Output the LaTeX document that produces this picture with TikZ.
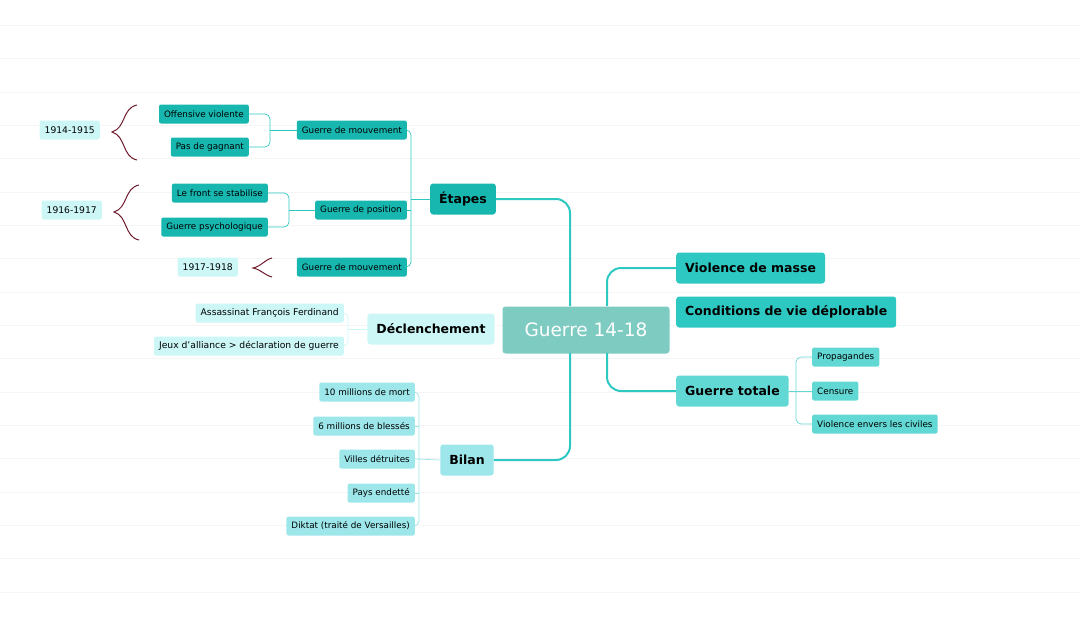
\documentclass[tikz,border=0pt]{standalone}
\usepackage{fontspec}
\setmainfont{DejaVu Sans}
\usetikzlibrary{positioning}
\definecolor{tealdark}{HTML}{17B7AF}
\definecolor{tealmid}{HTML}{2EC8C2}
\definecolor{teallight}{HTML}{62D8D4}
\definecolor{cyanpale}{HTML}{CDF7F7}
\definecolor{cyanbilan}{HTML}{9DE7EB}
\definecolor{centre}{HTML}{7ECBC1}
\definecolor{bracered}{HTML}{6E1B2B}
\definecolor{rule}{HTML}{F5F5F5}
\tikzset{
  box/.style={rounded corners=2pt, inner xsep=5pt, anchor=east, font=\fontsize{8.8}{10}\selectfont, minimum height=19pt},
  leaf/.style={box, fill=tealdark},
  pale/.style={box, fill=cyanpale, font=\fontsize{9.2}{10}\selectfont},
  bilanleaf/.style={box, fill=cyanbilan},
  totleaf/.style={box, anchor=west, fill=teallight},
  topic/.style={rounded corners=3pt, inner xsep=9pt, minimum height=31pt, font=\bfseries\fontsize{12.5}{14}\selectfont},
  link/.style={draw=tealmid, line width=0.7pt, rounded corners=5pt},
  thick link/.style={draw=tealmid, line width=2pt, rounded corners=14pt},
  brace/.style={draw=bracered, line width=1pt},
}
\begin{document}
\begin{tikzpicture}[x=1pt,y=-1pt]
    \useasboundingbox (0,0) rectangle (1080,632);
    % faint ruled paper
    \foreach \yy in {25,58,92,125,158,192,225,258,292,325,358,392,425,458,492,525,558,592}
        \draw[rule, line width=0.6pt] (0,\yy) -- (1080,\yy);

    % centre and main topics
    \node[topic, fill=centre, text=white, font=\fontsize{18.5}{20}\selectfont, minimum width=167pt, minimum height=47pt] (guerre) at (586,330) {Guerre 14-18};
    \node[topic, fill=tealdark] (etapes) at (463,199) {Étapes};
    \node[topic, fill=cyanpale] (declen) at (431,329) {Déclenchement};
    \node[topic, fill=cyanbilan] (bilan) at (467,460) {Bilan};
    \node[topic, fill=tealmid, anchor=west] (violence) at (676,268) {Violence de masse};
    \node[topic, fill=tealmid, anchor=west] (conditions) at (676,312) {Conditions de vie déplorable};
    \node[topic, fill=teallight, anchor=west] (totale) at (676,391) {Guerre totale};

    % Etapes branch
    \node[leaf] (mvt1) at (407,130) {Guerre de mouvement};
    \node[leaf] (position) at (407,210) {Guerre de position};
    \node[leaf] (mvt2) at (407,267) {Guerre de mouvement};
    \node[leaf] (offensive) at (249,114) {Offensive violente};
    \node[leaf] (gagnant) at (249,147) {Pas de gagnant};
    \node[leaf] (front) at (268,193) {Le front se stabilise};
    \node[leaf] (psycho) at (268,227) {Guerre psychologique};
    \node[pale] (an1) at (100,130) {1914-1915};
    \node[pale] (an2) at (102,210) {1916-1917};
    \node[pale] (an3) at (238,267) {1917-1918};

    % Declenchement branch
    \node[pale] (assassinat) at (344,313) {Assassinat François Ferdinand};
    \node[pale] (alliances) at (344,346) {Jeux d'alliance > déclaration de guerre};

    % Bilan branch
    \node[bilanleaf] (morts) at (415,392) {10 millions de mort};
    \node[bilanleaf] (blesses) at (415,426) {6 millions de blessés};
    \node[bilanleaf] (villes) at (415,459) {Villes détruites};
    \node[bilanleaf] (dette) at (415,493) {Pays endetté};
    \node[bilanleaf] (diktat) at (415,526) {Diktat (traité de Versailles)};

    % Guerre totale branch
    \node[totleaf] (propa) at (812,357) {Propagandes};
    \node[totleaf] (censure) at (812,391) {Censure};
    \node[totleaf] (civils) at (812,424) {Violence envers les civiles};

    % thick connectors
    \draw[thick link] (etapes.east) -- (570,199) -- (570,306);
    \draw[thick link] (bilan.east) -- (570,460) -- (570,353);
    \draw[thick link] (607,306) -- (607,268) -- (violence.west);
    \draw[thick link] (607,353) -- (607,391) -- (totale.west);

    % thin connectors
    \draw[link] (mvt1.east) -- (411,130) -- (411,267) -- (mvt2.east);
    \draw[link] (position.east) -- (411,210);
    \draw[link] (411,199) -- (etapes.west);
    \draw[link] (offensive.east) -- (270,114) -- (270,147) -- (gagnant.east);
    \draw[link] (270,130) -- (mvt1.west);
    \draw[link] (front.east) -- (289,193) -- (289,227) -- (psycho.east);
    \draw[link] (289,210) -- (position.west);
    \draw[link, draw=cyanpale] (assassinat.east) -- (348,313) -- (348,346) -- (alliances.east);
    \draw[link, draw=cyanpale] (348,329) -- (declen.west);
    \draw[link, draw=cyanbilan] (morts.east) -- (419,392) -- (419,526) -- (diktat.east);
    \draw[link, draw=cyanbilan] (blesses.east) -- (419,426);
    \draw[link, draw=cyanbilan] (dette.east) -- (419,493);
    \draw[link, draw=cyanbilan] (villes.east) -- (bilan.west);
    \draw[link, draw=teallight] (propa.west) -- (796,357) -- (796,424) -- (civils.west);
    \draw[link, draw=teallight] (totale.east) -- (censure.west);

    % braces
    \draw[brace] (137,105) .. controls (122,108) and (126,128) .. (112,132) .. controls (126,136) and (122,157) .. (137,160);
    \draw[brace] (139,185) .. controls (124,188) and (128,208) .. (114,212) .. controls (128,216) and (124,237) .. (139,240);
    \draw[brace] (272,258) .. controls (264,260) and (262,266) .. (253,268) .. controls (262,270) and (264,275) .. (272,277);
\end{tikzpicture}
\end{document}
